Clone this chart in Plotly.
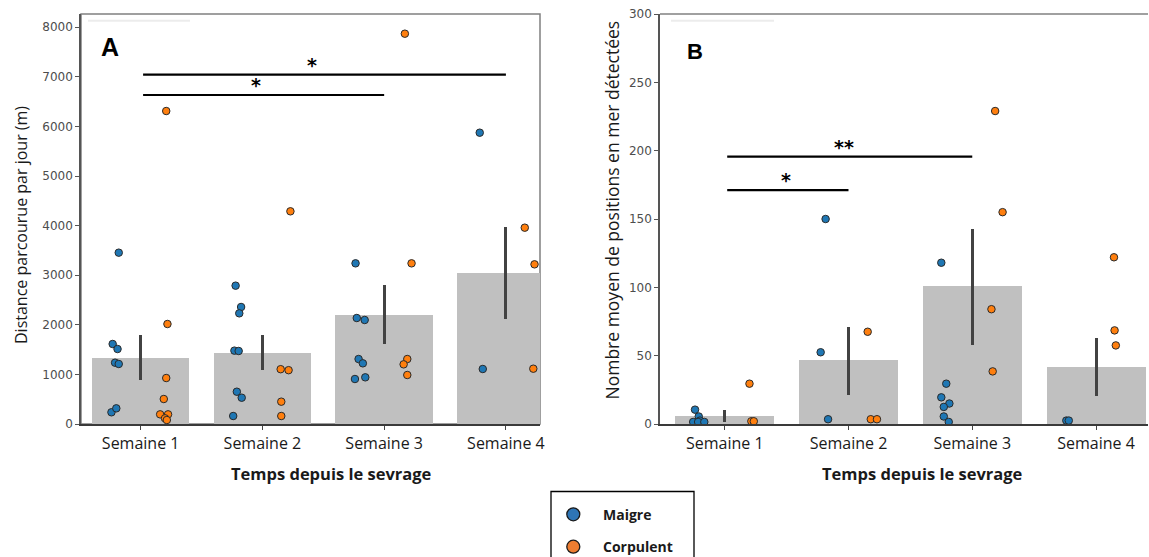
import plotly.graph_objects as go

W, H = 1149, 557

weeks = ["Semaine 1", "Semaine 2", "Semaine 3", "Semaine 4"]
groups = ["Maigre", "Corpulent"]

# ---- Panel A: distance travelled per day (m) ----
dist_maigre = [
    [3454, 1613, 1512, 1236, 1210, 236, 316],
    [2789, 2359, 2231, 1479, 1472, 651, 530, 161],
    [3239, 2137, 2097, 1310, 1223, 907, 941],
    [5873, 1109],
]
dist_corpulent = [
    [6310, 2016, 927, 504, 195, 195, 115, 80],
    [4288, 1105, 1085, 450, 161],
    [7869, 3239, 1310, 1203, 988],
    [3958, 3219, 1115],
]
dist_mean = [1337, 1425, 2204, 3050]
dist_ci_low = [887, 1089, 1613, 2111]
dist_ci_high = [1794, 1801, 2802, 3978]
dist_sig_pairs = [(0, 3), (0, 2)]
dist_sig_level = [7042, 6633]
dist_sig_text = ["*", "*"]

# ---- Panel B: mean number of at-sea positions ----
pos_maigre = [
    [10.5, 5.5, 2.5, 1.5, 1.5, 1.5],
    [150, 52.5, 3.5],
    [118, 29.5, 19.5, 15, 12.5, 5.5, 1.5],
    [2.5, 2.5],
]
pos_corpulent = [
    [29.5, 2, 2],
    [67.5, 3.5, 3.5],
    [229, 155, 84, 38.5],
    [122, 68.5, 57.5],
]
pos_mean = [6, 47, 101, 42]
pos_ci_low = [1.5, 21, 58, 20.5]
pos_ci_high = [10, 71, 143, 63]
pos_sig_pairs = [(0, 2), (0, 1)]
pos_sig_level = [195.6, 171.2]
pos_sig_text = ["**", "*"]

# strip-plot layout: dodge per group plus a small per-point jitter
DODGE = {"Maigre": -0.2, "Corpulent": 0.2}
jit_a_maigre = [
    [0.02, -0.03, 0.01, -0.01, 0.02, -0.04, 0.0],
    [-0.02, 0.025, 0.01, -0.03, 0.005, -0.01, 0.03, -0.04],
    [-0.035, -0.025, 0.04, -0.01, 0.025, -0.04, 0.045],
    [-0.015, 0.01],
]
jit_a_corpulent = [
    [0.01, 0.02, 0.01, -0.01, -0.04, 0.025, 0.0, 0.015],
    [0.03, -0.05, 0.015, -0.045, -0.045],
    [-0.03, 0.025, -0.01, -0.04, -0.01],
    [-0.045, 0.035, 0.025],
]
jit_b_maigre = [
    [-0.04, -0.01, 0.0, -0.055, -0.015, 0.035],
    [0.015, -0.025, 0.035],
    [-0.05, -0.01, -0.05, 0.015, -0.03, -0.03, 0.01],
    [-0.04, -0.02],
]
jit_b_corpulent = [
    [0.0, 0.015, 0.035],
    [-0.045, -0.02, 0.03],
    [-0.015, 0.045, -0.045, -0.035],
    [-0.055, -0.05, -0.04],
]
star_x_a = [1.41, 0.95]
star_x_b = [0.967, 0.496]

COLORS = {"Maigre": "#1f77b4", "Corpulent": "#ff7f0e"}
LEGEND_COLORS = {"Maigre": "#2e75b6", "Corpulent": "#ed7d31"}
BAR_COLOR = "#c0c0c0"
ERR_COLOR = "#424242"
TXT = "#1a1a1a"
FONT = "Open Sans"


def px(x):
    return x / W


def py(y):
    return 1 - y / H


fig = go.Figure()


def add_panel(xa, ya, means, lo, hi, maigre, corp, jm, jc):
    fig.add_trace(go.Bar(
        x=list(range(len(weeks))), y=means, width=0.8,
        marker=dict(color=BAR_COLOR, line=dict(width=0)),
        error_y=dict(type="data", symmetric=False,
                     array=[h - m for h, m in zip(hi, means)],
                     arrayminus=[m - l for m, l in zip(means, lo)],
                     color=ERR_COLOR, thickness=3, width=0),
        xaxis=xa, yaxis=ya, showlegend=False, hoverinfo="skip",
    ))
    for name, vals, jit in (("Maigre", maigre, jm), ("Corpulent", corp, jc)):
        xs, ys = [], []
        for i, (v, j) in enumerate(zip(vals, jit)):
            xs += [i + DODGE[name] + d for d in j]
            ys += v
        fig.add_trace(go.Scatter(
            x=xs, y=ys, mode="markers", name=name,
            marker=dict(size=7.5, color=COLORS[name],
                        line=dict(color="#2a2a2a", width=1)),
            xaxis=xa, yaxis=ya, showlegend=False,
        ))


add_panel("x", "y", dist_mean, dist_ci_low, dist_ci_high,
          dist_maigre, dist_corpulent, jit_a_maigre, jit_a_corpulent)
add_panel("x2", "y2", pos_mean, pos_ci_low, pos_ci_high,
          pos_maigre, pos_corpulent, jit_b_maigre, jit_b_corpulent)

ydom = [py(424), py(14)]
xaxis_common = dict(
    tickmode="array", tickvals=list(range(len(weeks))), ticktext=weeks,
    showline=True, linecolor="#3a3a3a", linewidth=2,
    ticks="outside", ticklen=4, tickwidth=1, tickcolor="#444",
    tickfont=dict(family=FONT, size=16, color=TXT),
    showgrid=False, zeroline=False, automargin=False,
)
yaxis_common = dict(
    showline=True, linecolor="#555", linewidth=1.5,
    ticks="outside", ticklen=4, tickwidth=1, tickcolor="#555",
    tickfont=dict(family="DejaVu Sans", size=12, color="#4d4d4d"),
    showgrid=False, zeroline=False, automargin=False,
)

fig.update_layout(
    width=W, height=H, autosize=False,
    margin=dict(l=0, r=0, t=0, b=0, pad=0, autoexpand=False),
    paper_bgcolor="white", plot_bgcolor="white",
    showlegend=False, bargap=0,
    xaxis=dict(domain=[px(81), px(540)], range=[-0.49, 3.28], anchor="y", **xaxis_common),
    yaxis=dict(domain=ydom, range=[0, 8266], tickvals=list(range(0, 8001, 1000)),
               anchor="x", **yaxis_common),
    xaxis2=dict(domain=[px(660), px(1148)], range=[-0.523, 3.42], anchor="y2", **xaxis_common),
    yaxis2=dict(domain=ydom, range=[0, 300], tickvals=list(range(0, 301, 50)),
                anchor="x2", **yaxis_common),
)

shapes = []
annotations = []


def label(x, y, text, size, family=FONT, color=TXT, **kw):
    annotations.append(dict(xref="paper", yref="paper", x=px(x), y=py(y), text=text,
                            showarrow=False, xanchor=kw.pop("xanchor", "center"),
                            yanchor="middle", font=dict(family=family, size=size, color=color),
                            **kw))


# frame: panel A boxed, panel B only a top rule
shapes.append(dict(type="rect", xref="x domain", yref="y domain", x0=0, x1=1, y0=0, y1=1,
                   line=dict(color="#808080", width=1.5), layer="below"))
shapes.append(dict(type="line", xref="x2 domain", yref="y2 domain", x0=0, x1=1, y0=1, y1=1,
                   line=dict(color="#808080", width=1.5)))
# faint rules near the top of each panel
for x0, x1 in ((88, 190), (671, 774)):
    shapes.append(dict(type="line", xref="paper", yref="paper",
                       x0=px(x0), x1=px(x1), y0=py(20.7), y1=py(20.7),
                       line=dict(color="#ececec", width=2)))

# significance brackets
for xa, ya, pairs, levels, texts, sx in (
    ("x", "y", dist_sig_pairs, dist_sig_level, dist_sig_text, star_x_a),
    ("x2", "y2", pos_sig_pairs, pos_sig_level, pos_sig_text, star_x_b),
):
    for (a, b), lvl, t, s in zip(pairs, levels, texts, sx):
        shapes.append(dict(type="line", xref=xa, yref=ya, x0=a + 0.02, x1=b, y0=lvl, y1=lvl,
                           line=dict(color="black", width=2.2)))
        annotations.append(dict(xref=xa, yref=ya, x=s, y=lvl, text=f"<b>{t}</b>",
                                showarrow=False, xanchor="center", yanchor="bottom", yshift=-3,
                                font=dict(family="DejaVu Sans", size=19, color="black")))

# panel letters
label(110, 47, "<b>A</b>", 25, family="Liberation Sans", color="black")
label(695, 52, "<b>B</b>", 22, family="Liberation Sans", color="black")

# axis titles
label(331, 473, "<b>Temps depuis le sevrage</b>", 16.5)
label(922, 473, "<b>Temps depuis le sevrage</b>", 16.5)
label(21, 225, "Distance parcourue par jour (m)", 16, textangle=-90)
label(611.5, 210, "Nombre moyen de positions en mer détectées", 17.5, textangle=-90)

# legend box
shapes.append(dict(type="rect", xref="paper", yref="paper",
                   x0=px(551), x1=px(694), y0=py(575), y1=py(491.5),
                   line=dict(color="black", width=1.3), fillcolor="white"))
for name, cy in zip(groups, (514.3, 546.7)):
    r = 6.5
    shapes.append(dict(type="circle", xref="paper", yref="paper",
                       x0=px(573.3 - r), x1=px(573.3 + r), y0=py(cy + r), y1=py(cy - r),
                       fillcolor=LEGEND_COLORS[name], line=dict(color="#1a1a1a", width=1.3)))
    label(601, cy, f"<b>{name}</b>", 14, xanchor="left")

fig.update_layout(shapes=shapes, annotations=annotations)
fig.write_html("out.html")
